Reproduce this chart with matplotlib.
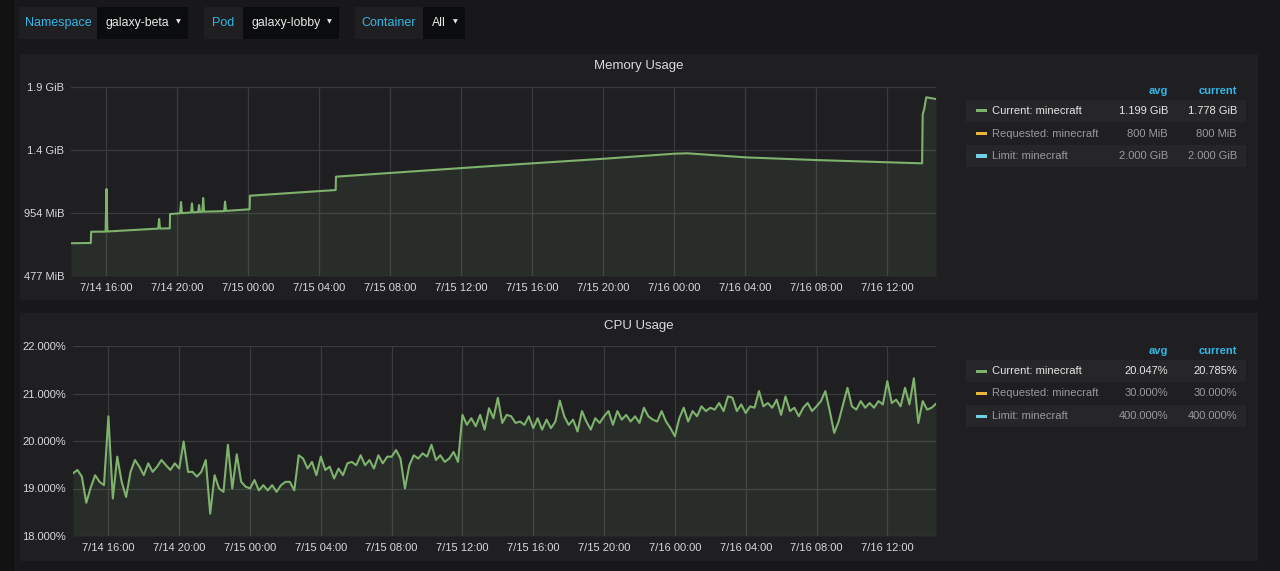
import numpy as np
import pandas as pd
import matplotlib
matplotlib.use("Agg")
import matplotlib.pyplot as plt
import matplotlib.dates as mdates
from matplotlib.patches import Rectangle
from matplotlib.ticker import FuncFormatter, FixedLocator

plt.rcParams['font.family'] = ['Liberation Sans', 'DejaVu Sans']

# メモリ使用量 (MiB) の折れ点
mem_times = [
    "07-14 14:00", "07-14 15:07", "07-14 15:08", "07-14 15:57", "07-14 16:00", "07-14 16:03",
    "07-14 18:55", "07-14 18:58", "07-14 19:01", "07-14 19:34", "07-14 19:35",
    "07-14 20:09", "07-14 20:12", "07-14 20:15", "07-14 20:46", "07-14 20:49", "07-14 20:52",
    "07-14 21:10", "07-14 21:13", "07-14 21:16", "07-14 21:24", "07-14 21:27", "07-14 21:30",
    "07-14 22:38", "07-14 22:41", "07-14 22:44", "07-15 00:04", "07-15 00:05",
    "07-15 04:55", "07-15 04:56", "07-15 13:04", "07-15 16:00", "07-15 20:03",
    "07-16 00:00", "07-16 00:44", "07-16 04:03", "07-16 07:59", "07-16 12:03",
    "07-16 13:58", "07-16 14:00", "07-16 14:05", "07-16 14:12", "07-16 14:45",
]
mem_values = [
    725, 727, 812, 813, 1136, 814,
    836, 908, 836, 838, 946,
    952, 1037, 953, 958, 1027, 959,
    961, 1014, 962, 963, 1067, 964,
    968, 1040, 970, 982, 1085,
    1128, 1229, 1304, 1330, 1365,
    1403, 1406, 1375, 1355, 1338,
    1330, 1700, 1740, 1830, 1817,
]

# CPU 使用率 (%) 15分ごと, 7/14 14:00 から
cpu_values = [
    19.32, 19.39, 19.25, 18.70, 19.02, 19.28, 19.14, 19.07, 20.52, 18.79,
    19.67, 19.14, 18.82, 19.35, 19.60, 19.46, 19.28, 19.53, 19.35, 19.46,
    19.60, 19.49, 19.39, 19.53, 19.42, 19.99, 19.35, 19.35, 19.25, 19.35,
    19.60, 18.47, 19.28, 19.00, 18.93, 19.92, 19.00, 19.72, 19.14, 19.04,
    19.00, 19.18, 18.96, 19.07, 18.96, 19.07, 18.93, 19.07, 19.14, 19.14,
    18.96, 19.70, 19.63, 19.42, 19.56, 19.28, 19.67, 19.39, 19.46, 19.21,
    19.42, 19.28, 19.53, 19.56, 19.49, 19.70, 19.49, 19.60, 19.42, 19.70,
    19.53, 19.67, 19.67, 19.81, 19.63, 19.00, 19.49, 19.70, 19.63, 19.74,
    19.67, 19.92, 19.60, 19.70, 19.56, 19.63, 19.77, 19.56, 20.55, 20.34,
    20.48, 20.31, 20.55, 20.24, 20.69, 20.48, 20.91, 20.38, 20.55, 20.52,
    20.38, 20.41, 20.34, 20.52, 20.27, 20.48, 20.24, 20.45, 20.27, 20.41,
    20.85, 20.52, 20.34, 20.45, 20.20, 20.63, 20.41, 20.24, 20.48, 20.38,
    20.52, 20.63, 20.34, 20.63, 20.45, 20.55, 20.41, 20.52, 20.38, 20.70,
    20.52, 20.45, 20.41, 20.63, 20.41, 20.27, 20.10, 20.48, 20.70, 20.41,
    20.63, 20.52, 20.73, 20.63, 20.70, 20.66, 20.80, 20.63, 20.94, 20.91,
    20.63, 20.77, 20.59, 20.73, 20.70, 21.05, 20.73, 20.80, 20.70, 20.87,
    20.55, 20.94, 20.63, 20.70, 20.52, 20.70, 20.80, 20.63, 20.73, 20.84,
    21.05, 20.63, 20.17, 20.41, 20.77, 21.12, 20.73, 20.66, 20.84, 20.70,
    20.80, 20.70, 20.84, 20.77, 21.26, 20.80, 20.87, 20.73, 21.12, 20.77,
    21.32, 20.38, 20.84, 20.66, 20.70, 20.785,
]

mem_ticks = [477, 954, 1431, 1908]
cpu_ticks = [18, 19, 20, 21, 22]

legend_names = ["Current: minecraft", "Requested: minecraft", "Limit: minecraft"]
legend_colors = ["#7eb26d", "#eab839", "#6ed0e0"]
mem_avg = ["1.199 GiB", "800 MiB", "2.000 GiB"]
mem_current = ["1.778 GiB", "800 MiB", "2.000 GiB"]
cpu_avg = ["20.047%", "30.000%", "400.000%"]
cpu_current = ["20.785%", "30.000%", "400.000%"]

dropdowns = [("Namespace", "galaxy-beta"), ("Pod", "galaxy-lobby"), ("Container", "All")]

W, H = 1280, 571
BG = "#18181a"
PANEL = "#1f1f22"
TEXT = "#d8d9da"
BLUE = "#33b5e5"
GRID = "#3b3b3e"

mem_t = pd.to_datetime(["2018-" + s for s in mem_times])
cpu_t = pd.date_range("2018-07-14 14:00", periods=len(cpu_values), freq="15min")
t0 = pd.Timestamp("2018-07-14 14:00")
t1 = pd.Timestamp("2018-07-16 14:45")

fig = plt.figure(figsize=(W / 100, H / 100), dpi=100)
fig.patch.set_facecolor(BG)


def rect(x, y, w, h, color):
    fig.patches.append(Rectangle((x / W, 1 - (y + h) / H), w / W, h / H,
                                 transform=fig.transFigure, facecolor=color,
                                 edgecolor="none", zorder=-10))


def ftext(x, y, s, **kw):
    fig.text(x / W, 1 - y / H, s, **kw)


# 左端の暗い帯
rect(0, 0, 14, H, "#121213")

# 上部のドロップダウン
boxes = [(19, 97, 188), (204, 243, 339), (355, 423, 465)]
for (label, value), (x0, x1, x2) in zip(dropdowns, boxes):
    rect(x0, 7, x1 - x0, 32, PANEL)
    rect(x1, 7, x2 - x1, 32, "#0b0c0e")
    ftext((x0 + x1) / 2, 23, label, color=BLUE, fontsize=9, ha="center", va="center")
    ftext(x1 + 9, 23, value, color="#e8e8e8", fontsize=8.8, ha="left", va="center")
    ftext(x2 - 10, 22, "\u25bc", color="#e8e8e8", fontsize=4.5, ha="center", va="center",
          family=["DejaVu Sans"])

# パネル
rect(20, 54, 1238, 246, PANEL)
rect(20, 313, 1238, 248, PANEL)
ftext(639, 66, "Memory Usage", color=TEXT, fontsize=9.5, ha="center", va="center")
ftext(639, 326, "CPU Usage", color=TEXT, fontsize=9.5, ha="center", va="center")


def time_fmt(x, pos):
    d = mdates.num2date(x)
    return f"{d.month}/{d.day} {d:%H:%M}"


def style_axes(ax):
    ax.set_facecolor(PANEL)
    for sp in ax.spines.values():
        sp.set_visible(False)
    ax.grid(True, color=GRID, linewidth=0.9)
    ax.set_axisbelow(True)
    ax.tick_params(length=0, colors=TEXT, labelsize=8, pad=5)
    ax.set_xlim(t0, t1)
    ax.xaxis.set_major_locator(mdates.HourLocator(byhour=[0, 4, 8, 12, 16, 20]))
    ax.xaxis.set_major_formatter(FuncFormatter(time_fmt))


# メモリ
ax1 = fig.add_axes([71 / W, 1 - 276 / H, 865 / W, 189 / H])
style_axes(ax1)
ax1.fill_between(mem_t, mem_values, mem_ticks[0], color="#7eb26d", alpha=0.1, linewidth=0)
ax1.plot(mem_t, mem_values, color="#7eb26d", linewidth=1.5)
ax1.set_ylim(mem_ticks[0], mem_ticks[-1])
ax1.yaxis.set_major_locator(FixedLocator(mem_ticks))
ax1.yaxis.set_major_formatter(FuncFormatter(
    lambda v, p: f"{v / 1024:.1f} GiB" if v >= 1024 else f"{v:.0f} MiB"))

# CPU
ax2 = fig.add_axes([73 / W, 1 - 536 / H, 863 / W, 190 / H])
style_axes(ax2)
ax2.fill_between(cpu_t, cpu_values, cpu_ticks[0], color="#7eb26d", alpha=0.1, linewidth=0)
ax2.plot(cpu_t, cpu_values, color="#7eb26d", linewidth=1.5)
ax2.set_ylim(cpu_ticks[0], cpu_ticks[-1])
ax2.yaxis.set_major_locator(FixedLocator(cpu_ticks))
ax2.yaxis.set_major_formatter(FuncFormatter(lambda v, p: f"{v:.3f}%"))


# 凡例テーブル
def legend_table(top, avgs, currents):
    ftext(1168, top, "avg", color=BLUE, fontsize=8, ha="right", va="center", weight="bold")
    ftext(1237, top, "current", color=BLUE, fontsize=8, ha="right", va="center", weight="bold")
    for i, (name, col, a, c) in enumerate(zip(legend_names, legend_colors, avgs, currents)):
        yc = top + 20 + i * 22.5
        if i != 1:
            rect(966, yc - 11, 280, 22, "#262629")
        rect(976, yc - 1.5, 11, 3, col)
        tc = "#e6e6e6" if i == 0 else "#9a9a9c"
        ftext(992, yc, name, color=tc, fontsize=8, ha="left", va="center")
        ftext(1168, yc, a, color=tc, fontsize=8, ha="right", va="center")
        ftext(1237, yc, c, color=tc, fontsize=8, ha="right", va="center")


legend_table(91, mem_avg, mem_current)
legend_table(351, cpu_avg, cpu_current)

fig.savefig("out.png", dpi=100, facecolor=BG)
